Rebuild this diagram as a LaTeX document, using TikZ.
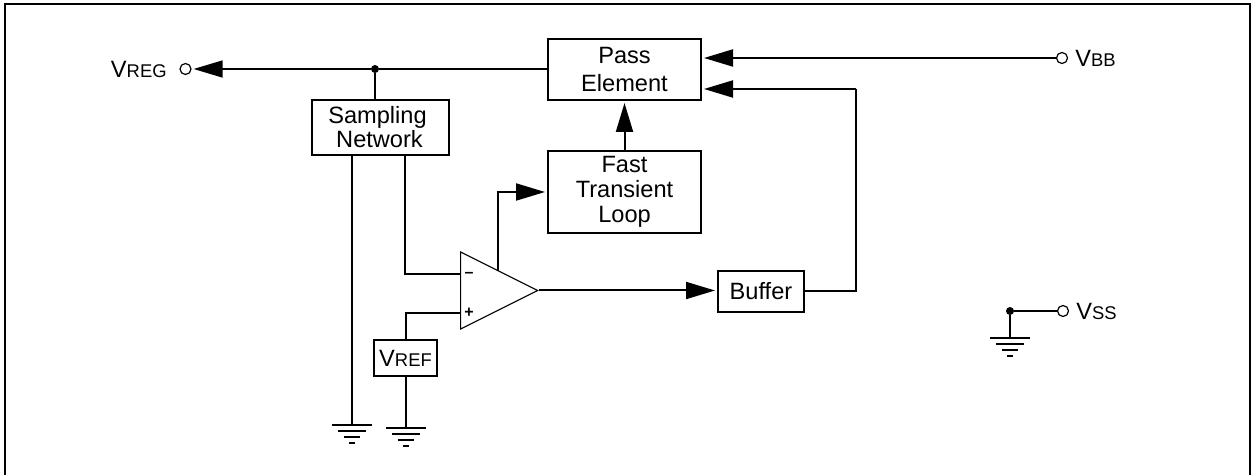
\documentclass[tikz,border=0pt]{standalone}
\usepackage{fontspec}
\setmainfont{Liberation Sans}
\usetikzlibrary{arrows.meta, positioning, shapes.geometric}

\newcommand{\pinname}[2]{#1{\fontsize{9.2}{11}\selectfont #2}}

\tikzset{
    block/.style={draw, line width=1pt, inner sep=0pt, align=center},
    wire/.style={line width=1pt},
    sig/.style={wire, -{Triangle[length=14.5pt,width=8.5pt]}, shorten >=1pt},
    pin/.style={circle, draw, fill=white, line width=0.6pt, minimum size=5.5pt, inner sep=0pt},
    junction/.style={circle, fill=black, minimum size=4pt, inner sep=0pt},
    pinlabel/.style={inner sep=0pt},
    gnd/.pic={
        \draw [wire] (-20,0) -- (20,0);
        \draw [wire] (-14,6) -- (14,6);
        \draw [wire] (-8,12) -- (8,12);
        \draw [wire] (-3,18) -- (3,18);
    }
}

\begin{document}
\begin{tikzpicture}[x=0.5pt, y=-0.5pt, font=\fontsize{11.8}{12}\selectfont]
        \useasboundingbox (0,0) rectangle (1251,475);
        \draw [line width=1.2pt] (5,475) -- (5,4) -- (1250,4) -- (1250,475);

        \node [block, minimum width=76.5pt, minimum height=30.5pt] (pass) at (624.5,69.5) {Pass\\[2pt]Element};
        \node [block, minimum width=76.5pt, minimum height=41pt, below of = pass, node distance=61.25pt] (fast) {Fast\\[0.5pt]Transient\\[0.5pt]Loop};
        \node [block, minimum width=68.5pt, minimum height=27.5pt, text width=64pt, align=center] (sampling) at (380.5,127.5) {\hspace*{-3pt}Sampling\\\hspace*{-1pt}Network};
        \node [block, minimum width=31.5pt, minimum height=18pt] (vref) at (405.5,358) {\pinname{V}{REF}};
        \node [block, minimum width=43pt, minimum height=20.5pt] (buffer) at (761,291.5) {Buffer};
        \node [isosceles triangle, isosceles triangle stretches, draw, line width=0.6pt, inner sep=0pt,
            minimum width=38.5pt, minimum height=38.5pt, anchor=lower side] (amp) at (460,290.5) {};
        \node [inner sep=0pt, font=\fontsize{8}{8}\bfseries\selectfont] (minus) at (469,274.7) {--};
        \node [inner sep=0pt, font=\fontsize{8}{8}\bfseries\selectfont] (plus) at (469,312.7) {+};

        \node [pin] (vreg) at (185.5,69) {};
        \node [pin] (vbb) at (1062,58) {};
        \node [pin] (vss) at (1063,311) {};
        \node [pinlabel, anchor=east] (vreglabel) at (167,69) {\pinname{V}{REG}};
        \node [pinlabel, anchor=west] (vbblabel) at (1075,58) {\pinname{V}{BB}};
        \node [pinlabel, anchor=west] (vsslabel) at (1076,311) {\pinname{V}{SS}};
        \node [junction] (tap) at (375,69) {};
        \node [junction] (vssdot) at (1010,311) {};

        \coordinate (g1) at (352,425);
        \coordinate (g2) at (405.5,428);
        \coordinate (g3) at (1010,338);
        \coordinate (sampout) at (405,155);
        \coordinate (minusin) at (460,274);
        \coordinate (plusin) at (460,313);
        \coordinate (ampout) at (498,271);
        \coordinate (bend) at (856,89);

        \draw [wire, line width=0.7pt] (pass.west |- tap) -- (tap);
        \draw [sig, line width=0.7pt] (tap) -- (vreg);
        \draw [wire, line width=0.7pt] (tap) -- (tap |- sampling.north);
        \draw [sig] (vbb) -- (pass.east |- vbb);
        \draw [sig] (fast) -- (pass);
        \draw [wire] (g1 |- sampling.south) -- (g1);
        \draw [wire] (sampout) |- (minusin);
        \draw [wire] (vref.north) |- (plusin);
        \draw [wire] (vref.south) -- (g2);
        \draw [sig] (ampout) |- (fast.west);
        \draw [sig] (amp.apex) -- (buffer.west |- amp.apex);
        \draw [wire] (buffer.east) -| (bend);
        \draw [sig] (bend) -- (pass.east |- bend);
        \draw [wire] (vssdot) -- (vss);
        \draw [wire] (vssdot) -- (g3);

        \pic at (g1) {gnd};
        \pic at (g2) {gnd};
        \pic at (g3) {gnd};
    \end{tikzpicture}
\end{document}
